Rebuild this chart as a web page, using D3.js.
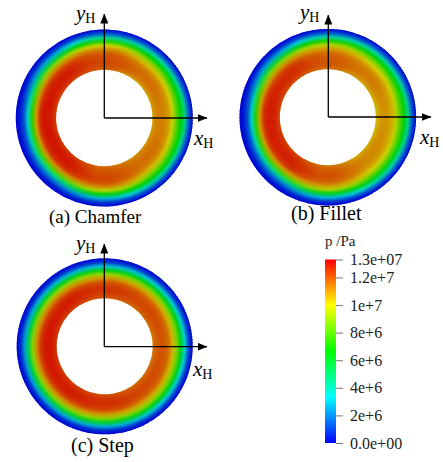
<!DOCTYPE html>
<html><head><meta charset="utf-8">
<script src="https://cdn.jsdelivr.net/npm/d3@7"></script>
<style>body{margin:0;background:#fff} svg{display:block}</style>
</head><body><svg id="chart" width="443" height="462"></svg>
<script>
// ---------- DATA (pressure in MPa) ----------
// radial sample positions across the film: 0 = inner (hole) edge, 1 = outer edge
const radialSamples = [0, 0.1, 0.2, 0.3, 0.4, 0.5, 0.6, 0.7, 0.8, 0.9, 1.0];
// angular sample positions, degrees, 0 = +x_H, counter-clockwise
const sampleAngles = [0, 45, 90, 135, 180, 225, 270, 315];

const chamferPressure = [
  [10.8, 11.2, 11.3, 11.2, 10.8, 9.8, 8.0, 6.6, 4.6, 1.4, 0.0],
  [10.6, 11.4, 11.6, 11.5, 11.1, 10.2, 8.6, 6.6, 4.0, 1.3, 0.0],
  [11.8, 12.1, 12.2, 12.1, 11.9, 11.2, 10.0, 7.2, 4.2, 1.3, 0.0],
  [12.3, 12.7, 12.9, 12.8, 12.4, 11.2, 9.0, 5.6, 2.6, 0.8, 0.0],
  [12.3, 12.8, 13.0, 13.0, 12.6, 10.8, 7.2, 3.6, 1.3, 0.4, 0.0],
  [12.4, 12.8, 13.0, 12.9, 12.5, 11.0, 8.0, 4.4, 1.8, 0.5, 0.0],
  [11.6, 11.9, 12.1, 12.2, 12.1, 11.3, 9.6, 6.4, 2.9, 0.9, 0.0],
  [11.0, 11.4, 11.6, 11.5, 11.2, 10.3, 8.6, 6.6, 4.2, 1.3, 0.0]
];
const filletPressure = [
  [10.3, 10.8, 11.0, 10.9, 10.5, 9.6, 8.0, 6.6, 4.5, 1.4, 0.0],
  [10.6, 11.2, 11.4, 11.3, 10.9, 10.0, 8.5, 6.6, 4.0, 1.3, 0.0],
  [11.5, 11.9, 12.0, 11.9, 11.6, 10.9, 9.6, 7.1, 4.0, 1.3, 0.0],
  [12.0, 12.5, 12.7, 12.6, 12.2, 11.0, 8.8, 5.5, 2.5, 0.8, 0.0],
  [12.2, 12.7, 12.9, 12.9, 12.5, 10.8, 7.2, 3.6, 1.3, 0.4, 0.0],
  [12.2, 12.6, 12.8, 12.8, 12.4, 10.9, 7.8, 4.3, 1.8, 0.5, 0.0],
  [11.4, 11.8, 12.0, 12.0, 11.8, 11.0, 9.4, 6.2, 2.9, 0.9, 0.0],
  [10.6, 11.0, 11.2, 11.1, 10.8, 10.0, 8.4, 6.4, 4.0, 1.3, 0.0]
];
const stepPressure = [
  [11.4, 11.8, 12.0, 11.9, 11.5, 10.4, 8.6, 6.3, 3.4, 1.1, 0.0],
  [11.6, 12.0, 12.2, 12.1, 11.7, 10.6, 8.8, 6.3, 3.2, 1.0, 0.0],
  [11.9, 12.3, 12.5, 12.4, 12.0, 10.9, 9.0, 6.3, 3.0, 0.9, 0.0],
  [12.3, 12.7, 12.9, 12.8, 12.3, 11.1, 9.0, 6.0, 2.8, 0.8, 0.0],
  [12.4, 12.8, 13.0, 12.9, 12.4, 11.1, 8.8, 5.6, 2.5, 0.7, 0.0],
  [12.3, 12.7, 12.9, 12.8, 12.3, 11.0, 8.8, 5.7, 2.6, 0.7, 0.0],
  [12.0, 12.4, 12.6, 12.5, 12.1, 10.9, 8.9, 6.0, 2.8, 0.8, 0.0],
  [11.6, 12.0, 12.2, 12.1, 11.7, 10.6, 8.8, 6.3, 3.2, 1.0, 0.0]
];
const panelNames = ["(a) Chamfer", "(b) Fillet", "(c) Step"];
const pressureRange = [0, 13.3e6];
const colorbarTicks = [0, 2e6, 4e6, 6e6, 8e6, 1e7, 1.2e7, 13.3e6];
const colorbarLabels = ["0.0e+00", "2e+6", "4e+6", "6e+6", "8e+6", "1e+7", "1.2e+7", "1.3e+07"];
const colorbarTitle = "p /Pa";

// ---------- LAYOUT ----------
const FONT = "Liberation Serif";
const panels = [
  {data: chamferPressure, cx: 104.3, cy: 118, R: 88.5, r: 48.2, ox: 104.3, oy: 118, ytip: 14, xtip: 207,
   yl: [76, 20], xl: [194, 145], cap: [49, 223], capSize: 19},
  {data: filletPressure, cx: 327.8, cy: 117.2, R: 88.3, r: 48, ox: 328.3, oy: 117, ytip: 15, xtip: 431,
   yl: [300, 19], xl: [420, 144], cap: [291, 220], capSize: 20},
  {data: stepPressure, cx: 104.7, cy: 346.3, R: 88, r: 48, ox: 104.3, oy: 346.7, ytip: 244, xtip: 207,
   yl: [76, 250], xl: [193, 376], cap: [71, 452], capSize: 20}
];

const svg = d3.select("#chart");
const defs = svg.append("defs");

const hueColor = t => d3.hsl(240 * (1 - Math.max(0, Math.min(1, t))), 1, 0.5).rgb();
const color = d3.scaleLinear().domain(pressureRange).range([0, 1]).clamp(true);
const shade = 0.82;
const fieldColor = p => { const c = hueColor(color(p * 1e6)); return d3.rgb(c.r * shade, c.g * shade, c.b * shade).formatHex(); };
const barColor = p => hueColor(color(p)).formatHex();

// arrowhead marker
defs.append("marker").attr("id", "arrow").attr("markerUnits", "userSpaceOnUse")
  .attr("viewBox", "0 0 10 8").attr("refX", 9.5).attr("refY", 4)
  .attr("markerWidth", 10).attr("markerHeight", 8).attr("orient", "auto")
  .append("path").attr("d", "M0,0L10,4L0,8Z").attr("fill", "#000");

const nW = 180;
const step = 360 / nW;
const arc = d3.arc();

panels.forEach((P, pi) => {
  const g = svg.append("g").attr("transform", `translate(${P.cx},${P.cy})`);
  for (let k = 0; k < nW; k++) {
    const th = k * step + step / 2;
    const j = Math.floor(th / 45) % sampleAngles.length;
    const j2 = (j + 1) % sampleAngles.length;
    const f = (th - sampleAngles[j]) / 45;
    const w = (1 - Math.cos(Math.PI * f)) / 2;
    const prof = radialSamples.map((s, i) => d3.interpolateNumber(P.data[j][i], P.data[j2][i])(w));
    const id = `g${pi}_${k}`;
    const grad = defs.append("radialGradient").attr("id", id).attr("gradientUnits", "userSpaceOnUse")
      .attr("cx", 0).attr("cy", 0).attr("fx", 0).attr("fy", 0).attr("r", P.R);
    radialSamples.forEach((s, i) => {
      grad.append("stop").attr("offset", (P.r + s * (P.R - P.r)) / P.R).attr("stop-color", fieldColor(prof[i]));
    });
    const thLo = (k * step) * Math.PI / 180, thHi = ((k + 1) * step + 0.7) * Math.PI / 180;
    g.append("path")
      .attr("d", arc({innerRadius: P.r, outerRadius: P.R, startAngle: Math.PI / 2 - thHi, endAngle: Math.PI / 2 - thLo}))
      .attr("fill", `url(#${id})`);
  }
  // axes
  svg.append("line").attr("x1", P.ox).attr("y1", P.oy).attr("x2", P.ox).attr("y2", P.ytip)
    .attr("stroke", "#000").attr("stroke-width", 1.3).attr("marker-end", "url(#arrow)");
  svg.append("line").attr("x1", P.ox).attr("y1", P.oy).attr("x2", P.xtip).attr("y2", P.oy)
    .attr("stroke", "#000").attr("stroke-width", 1.3).attr("marker-end", "url(#arrow)");
  const lab = (pos, letter) => {
    const t = svg.append("text").attr("x", pos[0]).attr("y", pos[1]).attr("fill", "#000")
      .style("font-family", FONT);
    t.append("tspan").style("font-style", "italic").style("font-size", "21px").text(letter);
    t.append("tspan").style("font-size", "14px").attr("dy", 3).text("H");
  };
  lab(P.yl, "y");
  lab(P.xl, "x");
  svg.append("text").attr("x", P.cap[0]).attr("y", P.cap[1])
    .style("font-family", FONT).style("font-size", P.capSize + "px").attr("fill", "#000").text(panelNames[pi]);
});

// ---------- COLORBAR ----------
const barX = 325, barW = 11;
const yBar = d3.scaleLinear().domain(pressureRange).range([443, 259.5]);
const lg = defs.append("linearGradient").attr("id", "bar").attr("x1", 0).attr("y1", 1).attr("x2", 0).attr("y2", 0);
d3.range(0, 1.0001, 0.05).forEach(t => {
  lg.append("stop").attr("offset", t).attr("stop-color", barColor(pressureRange[0] + t * (pressureRange[1] - pressureRange[0])));
});
svg.append("rect").attr("x", barX).attr("y", yBar(pressureRange[1])).attr("width", barW)
  .attr("height", yBar(pressureRange[0]) - yBar(pressureRange[1])).attr("fill", "url(#bar)");

const axis = d3.axisRight(yBar).tickValues(colorbarTicks)
  .tickFormat((d, i) => colorbarLabels[i]).tickSize(7).tickPadding(7);
const ag = svg.append("g").attr("transform", `translate(${barX + barW},0)`).call(axis);
ag.select(".domain").remove();
ag.selectAll(".tick line").attr("stroke", "#777").attr("stroke-width", 1);
ag.selectAll(".tick text").style("font-family", FONT).style("font-size", "16px").attr("fill", "#222");

svg.append("text").attr("x", barX).attr("y", 246).style("font-family", FONT).style("font-size", "15px")
  .attr("fill", "#222").text(colorbarTitle);
</script></body></html>
